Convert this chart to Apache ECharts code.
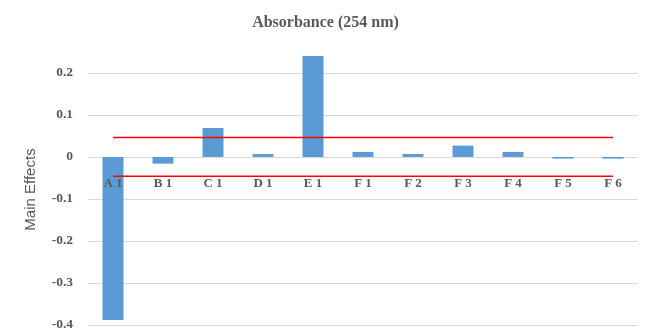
<!DOCTYPE html>
<html><head><meta charset="utf-8">
<script src="https://cdn.jsdelivr.net/npm/echarts@6/dist/echarts.min.js"></script>
<style>html,body{margin:0;padding:0;background:#fff}#c{width:651px;height:334px}</style>
</head><body><div id="c"></div>
<script>
const categories = ['A 1','B 1','C 1','D 1','E 1','F 1','F 2','F 3','F 4','F 5','F 6'];
const effects = [-0.388, -0.016, 0.069, 0.007, 0.240, 0.012, 0.007, 0.027, 0.012, -0.004, -0.004];
const upperLimit = categories.map(() => 0.046);
const lowerLimit = categories.map(() => -0.046);
const chart = echarts.init(document.getElementById('c'));
chart.setOption({
  animation: false,
  title: {text: 'Absorbance (254 nm)', left: 'center', top: 10,
    textStyle: {fontFamily: 'Liberation Serif', fontWeight: 'bold', fontSize: 16, color: '#595959'}},
  grid: {left: 88, right: 13, top: 54, bottom: 9, containLabel: false, outerBoundsMode: 'none'},
  xAxis: {type: 'category', data: categories, z: 10,
    axisLine: {show: false},
    axisTick: {show: false},
    axisLabel: {margin: -148, fontFamily: 'Liberation Serif', fontWeight: 'bold', fontSize: 13, color: '#595959'}},
  yAxis: {type: 'value', min: -0.4, max: 0.245, interval: 0.1,
    name: 'Main Effects', nameLocation: 'middle', nameGap: 50,
    nameTextStyle: {fontFamily: 'Liberation Sans', fontSize: 15, color: '#595959'},
    axisLine: {show: false}, axisTick: {show: false},
    axisLabel: {showMaxLabel: false, margin: 15, fontFamily: 'Liberation Serif', fontWeight: 'bold', fontSize: 13.5, color: '#595959',
      formatter: v => (Math.round(v*10)/10).toString()},
    splitLine: {showMaxLine: false, lineStyle: {color: '#d9d9d9'}}},
  series: [
    {type: 'bar', data: effects, barWidth: '42%', itemStyle: {color: '#5b9bd5'}, z: 1},
    {type: 'line', data: upperLimit, symbol: 'none', lineStyle: {color: '#ff0000', width: 1.5}, z: 3},
    {type: 'line', data: lowerLimit, symbol: 'none', lineStyle: {color: '#ff0000', width: 1.5}, z: 3}
  ]
});
</script></body></html>
